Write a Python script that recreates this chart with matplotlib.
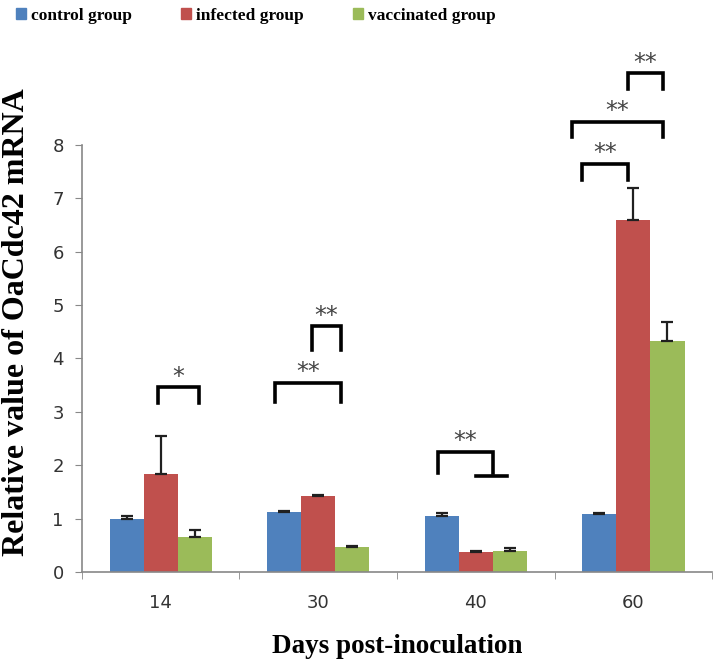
import numpy as np
import matplotlib.pyplot as plt
from matplotlib.patches import Patch

days = ['14', '30', '40', '60']
groups = ['control group', 'infected group', 'vaccinated group']
control = [0.99, 1.12, 1.05, 1.08]
control_err = [0.05, 0.02, 0.05, 0.02]
infected = [1.84, 1.42, 0.37, 6.60]
infected_err = [0.71, 0.03, 0.02, 0.60]
vaccinated = [0.66, 0.47, 0.40, 4.33]
vaccinated_err = [0.12, 0.02, 0.05, 0.35]
colors = ['#4F81BD', '#C0504D', '#9BBB59']

# significance brackets: (day index, left dx, right dx, top y, leg y, label)
brackets = [
    (0, -0.017, 0.244, 3.46, 3.16, '*'),
    (1, -0.275, 0.144, 3.54, 3.18, '**'),
    (1, -0.040, 0.144, 4.60, 4.16, '**'),
    (2, -0.240, 0.109, 2.25, 1.85, '**'),
    (3, -0.328, -0.035, 7.64, 7.34, '**'),
    (3, -0.390, 0.187, 8.43, 8.15, '**'),
    (3, -0.035, 0.187, 9.34, 9.04, '**'),
]

serif = 'Liberation Serif'

fig = plt.figure(figsize=(7.18, 6.65), dpi=100)
ax = fig.add_axes([0.114, 0.140, 0.878, 0.642])

x = np.arange(len(days))
w = 0.216
offs = [-w, 0, w]
for vals, errs, c, o in zip([control, infected, vaccinated],
                            [control_err, infected_err, vaccinated_err], colors, offs):
    ax.bar(x + o, vals, w, color=c, edgecolor='none', zorder=2)
    ax.errorbar(x + o, vals, yerr=[np.zeros(len(errs)), errs], fmt='none',
                ecolor='#202020', elinewidth=1.6, capsize=4.5, capthick=1.6, zorder=3)

for d, a, b, top, leg, lab in brackets:
    xa = d + a
    xb = d + b
    ax.plot([xa, xa, xb, xb], [leg, top, top, leg], color='black', lw=2.6,
            solid_joinstyle='miter', clip_on=False, zorder=4)
    ax.text((xa + xb) / 2, top + 0.07, lab, ha='center', va='baseline', fontsize=17,
            color='#444444', family='DejaVu Sans')
# horizontal bar under the 40-day bracket
ax.plot([2.0, 2.2], [1.80, 1.80], color='black', lw=2.6, clip_on=False, zorder=4)

ax.set_xlim(-0.5, 3.5)
ax.set_ylim(0, 8)
ax.set_yticks(range(9))
ax.set_xticks(x)
ax.set_xticklabels(days)
ax.set_xticks([-0.5, 0.5, 1.5, 2.5, 3.5], minor=True)
ax.tick_params(axis='x', which='major', length=0, pad=16)
ax.tick_params(axis='x', which='minor', length=5, color='#888888')
ax.tick_params(axis='y', length=5, color='#888888', pad=8)
ax.tick_params(labelsize=13, labelcolor='#333333')
for lab in ax.get_xticklabels() + ax.get_yticklabels():
    lab.set_family('DejaVu Sans')
for s in ['top', 'right']:
    ax.spines[s].set_visible(False)
for s in ['left', 'bottom']:
    ax.spines[s].set_color('#888888')
    ax.spines[s].set_linewidth(1.2)

ax.set_ylabel('Relative value of OaCdc42 mRNA', fontsize=23, fontweight='bold',
              family=serif)
ax.yaxis.set_label_coords(-0.08, 0.585)
ax.set_xlabel('Days post-inoculation', fontsize=19.5, fontweight='bold',
              family=serif, labelpad=16)

handles = [Patch(color=c) for c in colors]
fig.legend(handles, groups, loc='upper left', bbox_to_anchor=(0.0, 1.012), ncol=3,
           frameon=False, handlelength=0.6, handleheight=0.6, handletextpad=0.3,
           columnspacing=2.8, prop={'family': serif, 'weight': 'bold', 'size': 12.5})

fig.savefig('out.png', dpi=100)
